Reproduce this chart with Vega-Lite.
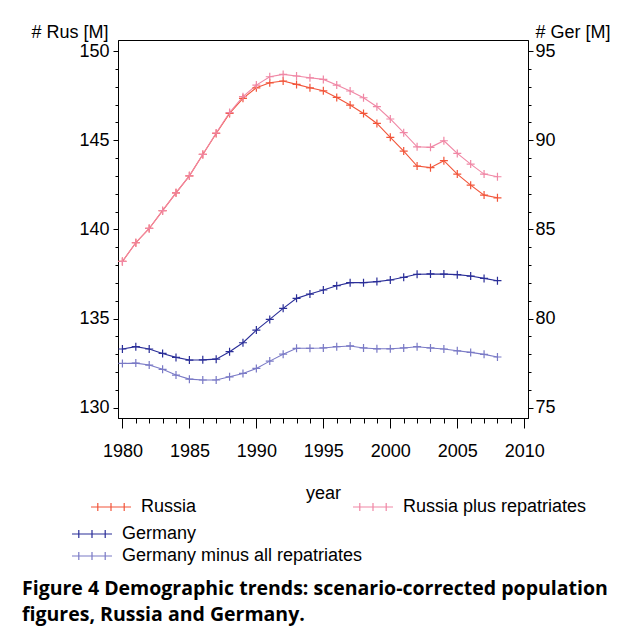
{
  "$schema": "https://vega.github.io/schema/vega-lite/v6.json",
  "autosize": {"type": "none"},
  "width": 410,
  "height": 378,
  "padding": {"left": 118, "top": 40, "right": 99, "bottom": 218},
  "background": "white",
  "title": {
    "text": ["Figure 4 Demographic trends: scenario-corrected population", "figures, Russia and Germany."],
    "orient": "bottom",
    "anchor": "start",
    "frame": "group",
    "dx": -96,
    "offset": 15,
    "font": "Open Sans",
    "fontSize": 19.5,
    "fontWeight": "bold",
    "lineHeight": 25.5,
    "color": "black"
  },
  "datasets": {
    "rus": [
      {"year": 1980, "series": "Russia", "value": 138.2},
      {"year": 1981, "series": "Russia", "value": 139.25},
      {"year": 1982, "series": "Russia", "value": 140.05},
      {"year": 1983, "series": "Russia", "value": 141.05},
      {"year": 1984, "series": "Russia", "value": 142.05},
      {"year": 1985, "series": "Russia", "value": 143.0},
      {"year": 1986, "series": "Russia", "value": 144.2},
      {"year": 1987, "series": "Russia", "value": 145.38},
      {"year": 1988, "series": "Russia", "value": 146.5},
      {"year": 1989, "series": "Russia", "value": 147.35},
      {"year": 1990, "series": "Russia", "value": 147.94},
      {"year": 1991, "series": "Russia", "value": 148.22},
      {"year": 1992, "series": "Russia", "value": 148.32},
      {"year": 1993, "series": "Russia", "value": 148.13},
      {"year": 1994, "series": "Russia", "value": 147.94},
      {"year": 1995, "series": "Russia", "value": 147.77},
      {"year": 1996, "series": "Russia", "value": 147.4},
      {"year": 1997, "series": "Russia", "value": 146.97},
      {"year": 1998, "series": "Russia", "value": 146.5},
      {"year": 1999, "series": "Russia", "value": 145.94},
      {"year": 2000, "series": "Russia", "value": 145.16},
      {"year": 2001, "series": "Russia", "value": 144.39},
      {"year": 2002, "series": "Russia", "value": 143.55},
      {"year": 2003, "series": "Russia", "value": 143.46},
      {"year": 2004, "series": "Russia", "value": 143.85},
      {"year": 2005, "series": "Russia", "value": 143.1},
      {"year": 2006, "series": "Russia", "value": 142.48},
      {"year": 2007, "series": "Russia", "value": 141.92},
      {"year": 2008, "series": "Russia", "value": 141.77},
      {"year": 1980, "series": "Russia plus repatriates", "value": 138.2},
      {"year": 1981, "series": "Russia plus repatriates", "value": 139.25},
      {"year": 1982, "series": "Russia plus repatriates", "value": 140.05},
      {"year": 1983, "series": "Russia plus repatriates", "value": 141.05},
      {"year": 1984, "series": "Russia plus repatriates", "value": 142.05},
      {"year": 1985, "series": "Russia plus repatriates", "value": 143.0},
      {"year": 1986, "series": "Russia plus repatriates", "value": 144.2},
      {"year": 1987, "series": "Russia plus repatriates", "value": 145.4},
      {"year": 1988, "series": "Russia plus repatriates", "value": 146.55},
      {"year": 1989, "series": "Russia plus repatriates", "value": 147.44},
      {"year": 1990, "series": "Russia plus repatriates", "value": 148.09},
      {"year": 1991, "series": "Russia plus repatriates", "value": 148.56},
      {"year": 1992, "series": "Russia plus repatriates", "value": 148.69},
      {"year": 1993, "series": "Russia plus repatriates", "value": 148.6},
      {"year": 1994, "series": "Russia plus repatriates", "value": 148.5},
      {"year": 1995, "series": "Russia plus repatriates", "value": 148.41},
      {"year": 1996, "series": "Russia plus repatriates", "value": 148.09},
      {"year": 1997, "series": "Russia plus repatriates", "value": 147.76},
      {"year": 1998, "series": "Russia plus repatriates", "value": 147.38},
      {"year": 1999, "series": "Russia plus repatriates", "value": 146.88},
      {"year": 2000, "series": "Russia plus repatriates", "value": 146.19},
      {"year": 2001, "series": "Russia plus repatriates", "value": 145.42},
      {"year": 2002, "series": "Russia plus repatriates", "value": 144.63},
      {"year": 2003, "series": "Russia plus repatriates", "value": 144.6},
      {"year": 2004, "series": "Russia plus repatriates", "value": 144.97},
      {"year": 2005, "series": "Russia plus repatriates", "value": 144.26},
      {"year": 2006, "series": "Russia plus repatriates", "value": 143.66},
      {"year": 2007, "series": "Russia plus repatriates", "value": 143.1},
      {"year": 2008, "series": "Russia plus repatriates", "value": 142.95}
    ],
    "ger": [
      {"year": 1980, "series": "Germany", "value": 78.29},
      {"year": 1981, "series": "Germany", "value": 78.42},
      {"year": 1982, "series": "Germany", "value": 78.29},
      {"year": 1983, "series": "Germany", "value": 78.04},
      {"year": 1984, "series": "Germany", "value": 77.82},
      {"year": 1985, "series": "Germany", "value": 77.67},
      {"year": 1986, "series": "Germany", "value": 77.68},
      {"year": 1987, "series": "Germany", "value": 77.72},
      {"year": 1988, "series": "Germany", "value": 78.14},
      {"year": 1989, "series": "Germany", "value": 78.64},
      {"year": 1990, "series": "Germany", "value": 79.35},
      {"year": 1991, "series": "Germany", "value": 79.95},
      {"year": 1992, "series": "Germany", "value": 80.57},
      {"year": 1993, "series": "Germany", "value": 81.13},
      {"year": 1994, "series": "Germany", "value": 81.37},
      {"year": 1995, "series": "Germany", "value": 81.6},
      {"year": 1996, "series": "Germany", "value": 81.84},
      {"year": 1997, "series": "Germany", "value": 82.01},
      {"year": 1998, "series": "Germany", "value": 82.01},
      {"year": 1999, "series": "Germany", "value": 82.07},
      {"year": 2000, "series": "Germany", "value": 82.16},
      {"year": 2001, "series": "Germany", "value": 82.31},
      {"year": 2002, "series": "Germany", "value": 82.48},
      {"year": 2003, "series": "Germany", "value": 82.5},
      {"year": 2004, "series": "Germany", "value": 82.49},
      {"year": 2005, "series": "Germany", "value": 82.46},
      {"year": 2006, "series": "Germany", "value": 82.38},
      {"year": 2007, "series": "Germany", "value": 82.25},
      {"year": 2008, "series": "Germany", "value": 82.12},
      {"year": 1980, "series": "Germany minus all repatriates", "value": 77.48},
      {"year": 1981, "series": "Germany minus all repatriates", "value": 77.5},
      {"year": 1982, "series": "Germany minus all repatriates", "value": 77.39},
      {"year": 1983, "series": "Germany minus all repatriates", "value": 77.15},
      {"year": 1984, "series": "Germany minus all repatriates", "value": 76.83},
      {"year": 1985, "series": "Germany minus all repatriates", "value": 76.6},
      {"year": 1986, "series": "Germany minus all repatriates", "value": 76.55},
      {"year": 1987, "series": "Germany minus all repatriates", "value": 76.55},
      {"year": 1988, "series": "Germany minus all repatriates", "value": 76.73},
      {"year": 1989, "series": "Germany minus all repatriates", "value": 76.92},
      {"year": 1990, "series": "Germany minus all repatriates", "value": 77.2},
      {"year": 1991, "series": "Germany minus all repatriates", "value": 77.61},
      {"year": 1992, "series": "Germany minus all repatriates", "value": 78.0},
      {"year": 1993, "series": "Germany minus all repatriates", "value": 78.33},
      {"year": 1994, "series": "Germany minus all repatriates", "value": 78.33},
      {"year": 1995, "series": "Germany minus all repatriates", "value": 78.35},
      {"year": 1996, "series": "Germany minus all repatriates", "value": 78.42},
      {"year": 1997, "series": "Germany minus all repatriates", "value": 78.46},
      {"year": 1998, "series": "Germany minus all repatriates", "value": 78.35},
      {"year": 1999, "series": "Germany minus all repatriates", "value": 78.3},
      {"year": 2000, "series": "Germany minus all repatriates", "value": 78.3},
      {"year": 2001, "series": "Germany minus all repatriates", "value": 78.35},
      {"year": 2002, "series": "Germany minus all repatriates", "value": 78.42},
      {"year": 2003, "series": "Germany minus all repatriates", "value": 78.35},
      {"year": 2004, "series": "Germany minus all repatriates", "value": 78.29},
      {"year": 2005, "series": "Germany minus all repatriates", "value": 78.19},
      {"year": 2006, "series": "Germany minus all repatriates", "value": 78.1},
      {"year": 2007, "series": "Germany minus all repatriates", "value": 77.99},
      {"year": 2008, "series": "Germany minus all repatriates", "value": 77.84}
    ]
  },
  "encoding": {
    "x": {
      "field": "year",
      "type": "quantitative",
      "scale": {"domain": [1979.67, 2010.28], "nice": false, "zero": false},
      "axis": {
        "title": "year",
        "titleY": 80,
        "titleBaseline": "alphabetic",
        "values": [1980,1981,1982,1983,1984,1985,1986,1987,1988,1989,1990,1991,1992,1993,1994,1995,1996,1997,1998,1999,2000,2001,2002,2003,2004,2005,2006,2007,2008,2009,2010],
        "format": "d",
        "labelExpr": "datum.value % 5 === 0 ? datum.label : ''",
        "tickSize": {"condition": {"test": "datum.value % 5 === 0", "value": 10}, "value": 5},
        "labelPadding": 14,
        "labelFlush": false,
        "labelOverlap": false
      }
    }
  },
  "layer": [
    {
      "data": {"name": "rus"},
      "mark": {
        "type": "line",
        "strokeWidth": 1.1,
        "point": {"shape": "M-1,0H1M0,-1V1", "filled": false, "size": 64, "strokeWidth": 1.2}
      },
      "encoding": {
        "y": {
          "field": "value",
          "type": "quantitative",
          "scale": {"domain": [129.42, 150.62], "nice": false, "zero": false},
          "axis": {
            "orient": "left",
            "title": "# Rus [M]",
            "titleAngle": 0,
            "titleAlign": "right",
            "titleBaseline": "alphabetic",
            "titleX": -10,
            "titleY": -3,
            "values": [130,131,132,133,134,135,136,137,138,139,140,141,142,143,144,145,146,147,148,149,150],
            "labelExpr": "datum.value % 5 === 0 ? datum.label : ''",
            "tickSize": {"condition": {"test": "datum.value % 5 === 0", "value": 5}, "value": 3},
            "labelPadding": 4
          }
        },
        "color": {
          "field": "series",
          "type": "nominal",
          "scale": {"domain": ["Russia", "Russia plus repatriates"], "range": ["#f2553a", "#f087a5"]},
          "legend": {
            "orient": "none",
            "legendX": -16,
            "legendY": 458,
            "direction": "horizontal",
            "columns": 2,
            "columnPadding": 153,
            "title": null,
            "symbolType": "M-5,0H5M-3.3,-1V1M0,-1V1M3.3,-1V1",
            "symbolSize": 64,
            "symbolStrokeWidth": 1.2,
            "labelOffset": 21,
            "labelLimit": 400
          }
        }
      }
    },
    {
      "data": {"name": "ger"},
      "mark": {
        "type": "line",
        "strokeWidth": 1.1,
        "point": {"shape": "M-1,0H1M0,-1V1", "filled": false, "size": 64, "strokeWidth": 1.2}
      },
      "encoding": {
        "y": {
          "field": "value",
          "type": "quantitative",
          "scale": {"domain": [74.42, 95.62], "nice": false, "zero": false},
          "axis": {
            "orient": "right",
            "title": "# Ger [M]",
            "titleAngle": 0,
            "titleAlign": "left",
            "titleBaseline": "alphabetic",
            "titleX": 7,
            "titleY": -3,
            "values": [75,76,77,78,79,80,81,82,83,84,85,86,87,88,89,90,91,92,93,94,95],
            "labelExpr": "datum.value % 5 === 0 ? datum.label : ''",
            "tickSize": {"condition": {"test": "datum.value % 5 === 0", "value": 5}, "value": 3},
            "labelPadding": 2
          }
        },
        "color": {
          "field": "series",
          "type": "nominal",
          "scale": {"domain": ["Germany", "Germany minus all repatriates"], "range": ["#2a2e98", "#7a7ac6"]},
          "legend": {
            "orient": "none",
            "legendX": -35,
            "legendY": 485,
            "direction": "vertical",
            "rowPadding": 4,
            "title": null,
            "symbolType": "M-5,0H5M-3.3,-1V1M0,-1V1M3.3,-1V1",
            "symbolSize": 64,
            "symbolStrokeWidth": 1.2,
            "labelOffset": 21,
            "labelLimit": 400
          }
        }
      }
    }
  ],
  "resolve": {"scale": {"y": "independent", "color": "independent"}},
  "config": {
    "view": {"stroke": "black", "strokeWidth": 1},
    "axis": {
      "grid": false,
      "domainColor": "black",
      "tickColor": "black",
      "labelColor": "black",
      "titleColor": "black",
      "labelFont": "Liberation Sans",
      "titleFont": "Liberation Sans",
      "labelFontSize": 18,
      "titleFontSize": 18,
      "titleFontWeight": "normal"
    },
    "legend": {
      "labelFont": "Liberation Sans",
      "labelFontSize": 18,
      "labelColor": "black",
      "padding": 0
    }
  }
}
